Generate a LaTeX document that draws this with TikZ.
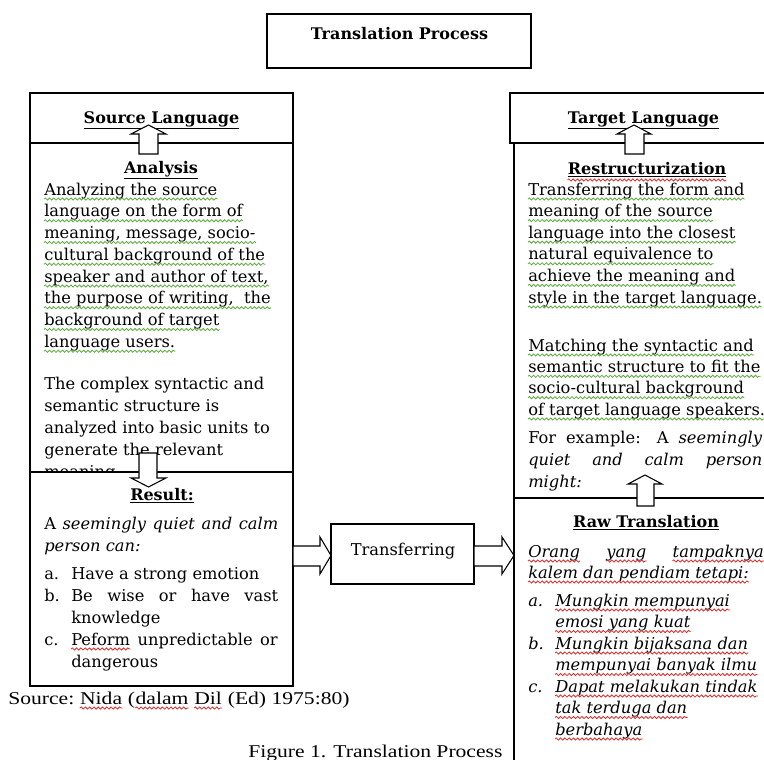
\documentclass[tikz,border=0pt]{standalone}
\usepackage{fontspec}
\setmainfont{DejaVu Serif}
\newfontfamily\timesf[FakeStretch=1.2]{Liberation Serif}
\usetikzlibrary{decorations.pathmorphing,calc}
\definecolor{spellgreen}{RGB}{90,170,60}
\definecolor{spellred}{RGB}{225,40,40}
\newcommand\bodyf{\fontsize{12.2pt}{14pt}\selectfont}
\newcommand\headf{\fontsize{12pt}{14pt}\selectfont\bfseries}
\newcommand\capf{\timesf\fontsize{13.5pt}{16pt}\selectfont}
\begin{document}
\begin{tikzpicture}[x=0.75pt,y=-0.75pt,
  box/.style={draw, line width=0.9pt, fill=white},
  blockarrow/.style={draw, line width=0.8pt, fill=white, line join=miter},
  para/.style={anchor=base west, inner sep=0pt, font=\bodyf},
  ital/.style={para, font=\bodyf\itshape},
  head/.style={anchor=base, inner sep=0pt, font=\headf},
  caption/.style={anchor=base west, inner sep=0pt, font=\capf},
  wavyg/.style={spellgreen, line width=0.6pt, decorate, decoration={snake, amplitude=0.8pt, segment length=3.2pt}},
  wavyr/.style={wavyg, spellred}]
\newcommand\gline[3]{\node[para] (#1) at (#2) {#3};
  \draw[wavyg] ([yshift=-3pt]#1.base west) -- ([yshift=-3pt]#1.base east);}
\newcommand\rline[3]{\node[ital] (#1) at (#2) {#3};
  \draw[wavyr] ([yshift=-3pt]#1.base west) -- ([yshift=-3pt]#1.base east);}
\newcommand\redwave[1]{\draw[wavyr] ([yshift=-3pt]#1.base west) -- ([yshift=-3pt]#1.base east);}
\useasboundingbox (0,0) rectangle (764,760);
\clip (0,0) rectangle (764,760);
\fill[white] (0,0) rectangle (764,760);

% title
\draw[box] (267,14) rectangle (531,68);
\node[head] (title) at (399.5,39) {Translation Process};

% ---------- left column
\draw[box] (30,93) rectangle (293,143);
\node[head] (srcT) at (161.5,123) {\underline{Source Language}};
\draw[box] (30,143) rectangle (293,472);
\node[head] (anaT) at (161,173) {\underline{Analysis}};
\gline{a1}{44,195}{Analyzing the source}
\gline{a2}{44,216.75}{language on the form of}
\gline{a3}{44,238.5}{meaning, message, socio-}
\gline{a4}{44,260.25}{cultural background of the}
\gline{a5}{44,282}{speaker and author of text,}
\gline{a6}{44,303.75}{the purpose of writing,\ \ the}
\gline{a7}{44,325.5}{background of target}
\gline{a8}{44,347.25}{language users.}
\node[para] (b1) at (44,389) {The complex syntactic and};
\node[para] (b2) at (44,411) {semantic structure is};
\node[para] (b3) at (44,433) {analyzed into basic units to};
\node[para] (b4) at (44,455) {generate the relevant};
\node[para] (b5) at (44,477) {meaning.};
\draw[box] (30,472) rectangle (293,686);
\node[head] (resT) at (162,500) {\underline{Result:}};
\node[para] (r1) at (44,529) {\makebox[175.5pt][s]{A \textit{seemingly quiet and calm}}};
\node[para] (r2) at (44,551) {\textit{person can:}};
\node[para] (ra) at (44,579) {a.};
\node[para] (rb) at (44,601) {b.};
\node[para] (rc) at (44,645) {c.};
\node[para] (ri1) at (71,579) {Have a strong emotion};
\node[para] (ri2) at (71,601) {\makebox[155.25pt][s]{Be wise or have vast}};
\node[para] (ri3) at (71,623) {knowledge};
\node[para] (ri4a) at (71,645) {Peform};
\redwave{ri4a}
\node[para, anchor=base east] (ri4c) at (278,645) {or};
\node[para, anchor=base] (ri4b) at ($(ri4a.base east)!0.5!(ri4c.base west)$) {unpredictable};
\node[para] (ri5) at (71,667) {dangerous};

% up / down arrows left
\draw[blockarrow] (139,154) -- (139,134) -- (131,134) -- (148.5,125) -- (166,134) -- (158,134) -- (158,154) -- cycle;
\draw[blockarrow] (139,453) -- (157,453) -- (157,478) -- (166,478) -- (148.5,487) -- (131,478) -- (139,478) -- cycle;

% ---------- middle
\draw[box] (331,524) rectangle (474,584);
\node[anchor=base, inner sep=0pt, font=\bodyf] (trans) at (403,555) {Transferring};
\draw[blockarrow] (293,546) -- (320,546) -- (320,537) -- (331,555.5) -- (320,574) -- (320,566) -- (293,566) -- cycle;
\draw[blockarrow] (474,546) -- (502,546) -- (502,537) -- (514,555.5) -- (502,574) -- (502,566) -- (474,566) -- cycle;

% ---------- right column
\draw[box] (510,93) rectangle (800,143);
\node[head] (tgtT) at (643.5,123) {\underline{Target Language}};
\draw[box] (514,143) rectangle (800,498);
\node[head] (restT) at (647,174) {\underline{Restructurization}};
\draw[wavyr] ([yshift=-4.5pt]restT.base west) -- ([yshift=-4.5pt]restT.base east);
\gline{t1}{528,195}{Transferring the form and}
\gline{t2}{528,216.6}{meaning of the source}
\gline{t3}{528,238.2}{language into the closest}
\gline{t4}{528,259.8}{natural equivalence to}
\gline{t5}{528,281.4}{achieve the meaning and}
\gline{t6}{528,303}{style in the target language.}
\gline{m1}{528,351}{Matching the syntactic and}
\gline{m2}{528,372.3}{semantic structure to fit the}
\gline{m3}{528,393.7}{socio-cultural background}
\gline{m4}{528,415}{of target language speakers.}
\node[para] (e1) at (528,443) {\makebox[175.5pt][s]{For example: A \textit{seemingly}}};
\node[para] (e2) at (528,465) {\makebox[175.5pt][s]{\textit{quiet and calm person}}};
\node[ital] (e3) at (528,487) {might:};
\draw[box] (514,498) rectangle (800,800);
\node[head] (rawT) at (646,527) {\underline{Raw Translation}};
\node[ital] (o1) at (528,557) {Orang}; \redwave{o1}
\node[ital, anchor=base east] (o3) at (764,557) {tampaknya}; \redwave{o3}
\node[ital, anchor=base] (o2) at ($(o1.base east)!0.5!(o3.base west)$) {yang}; \redwave{o2}
\rline{o4}{528,578}{kalem dan pendiam tetapi:}
\node[ital] (la) at (528,606) {a.};
\node[ital] (lb) at (528,649) {b.};
\node[ital] (lc) at (528,692) {c.};
\rline{k1}{555,606}{Mungkin mempunyai}
\rline{k2}{555,627.5}{emosi yang kuat}
\rline{k3}{555,649}{Mungkin bijaksana dan}
\rline{k4}{555,670.5}{mempunyai banyak ilmu}
\rline{k5}{555,692}{Dapat melakukan tindak}
\rline{k6}{555,713.5}{tak terduga dan}
\rline{k7}{555,735}{berbahaya}

% up arrows right
\draw[blockarrow] (625,154) -- (625,134) -- (617,134) -- (634,125) -- (651,134) -- (644,134) -- (644,154) -- cycle;
\draw[blockarrow] (637,506) -- (637,484) -- (628,484) -- (645,475) -- (662,484) -- (654,484) -- (654,506) -- cycle;

% captions
\node[caption] (s1) at (8,704) {Source:};
\node[caption] (s2) at ([xshift=4pt]s1.base east) {Nida}; \redwave{s2}
\node[caption] (s3) at ([xshift=4pt]s2.base east) {(};
\node[caption] (s4) at (s3.base east) {dalam}; \redwave{s4}
\node[caption] (s5) at ([xshift=4pt]s4.base east) {Dil}; \redwave{s5}
\node[caption] (s6) at ([xshift=4pt]s5.base east) {(Ed) 1975:80)};
\node[caption] (fig) at (248,757) {Figure 1. Translation Process};
\end{tikzpicture}
\end{document}
